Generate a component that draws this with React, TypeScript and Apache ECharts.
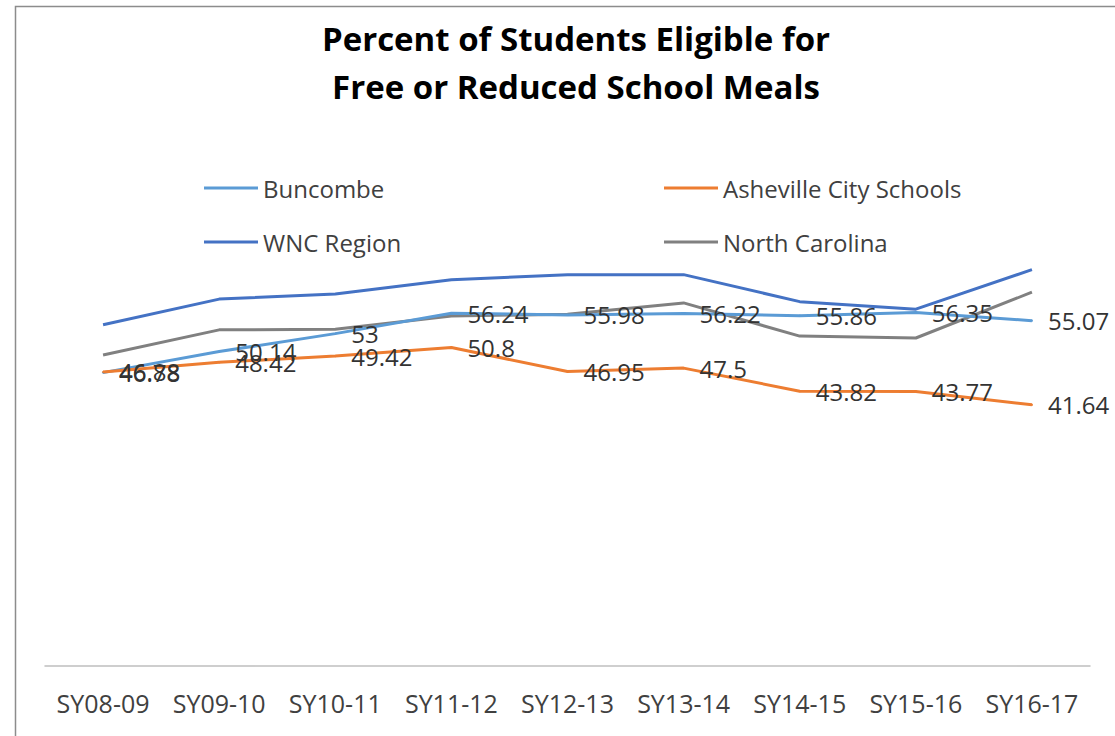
import React, { useEffect, useRef } from "react";
import * as echarts from "echarts";

const categories = ["SY08-09", "SY09-10", "SY10-11", "SY11-12", "SY12-13", "SY13-14", "SY14-15", "SY15-16", "SY16-17"];
const buncombe = [46.78, 50.14, 53, 56.24, 55.98, 56.22, 55.86, 56.35, 55.07];
const asheville = [46.88, 48.42, 49.42, 50.8, 46.95, 47.5, 43.82, 43.77, 41.64];
const wncRegion = [54.4, 58.5, 59.3, 61.6, 62.4, 62.4, 58.1, 56.9, 63.2];
const northCarolina = [49.6, 53.6, 53.7, 55.8, 56.1, 57.9, 52.6, 52.3, 59.6];
const titleText = "Percent of Students Eligible for\nFree or Reduced School Meals";

const FONT = "'Open Sans', 'Noto Sans', sans-serif";

export default function App() {
  const ref = useRef<HTMLDivElement>(null);
  useEffect(() => {
    if (!ref.current) return;
    const chart = echarts.init(ref.current, null, { renderer: "svg" });
    const labelStyle = {
      show: true,
      position: "right" as const,
      distance: 15,
      fontSize: 24,
      color: "#333333",
      fontFamily: FONT,
    };
    const mkLegend = (name: string, left: number, top: number) => ({
      data: [name],
      left,
      top,
      orient: "horizontal",
      icon: "rect",
      itemWidth: 54,
      itemHeight: 3,
      padding: 0,
      textStyle: { fontSize: 24, color: "#404040", fontFamily: FONT, lineHeight: 30 },
    });
    chart.setOption({
      animation: false,
      backgroundColor: "#ffffff",
      title: {
        text: titleText,
        left: 571,
        textAlign: "center",
        top: 9,
        textStyle: { fontSize: 33, fontWeight: "bold", color: "#000000", fontFamily: FONT, lineHeight: 48 },
      },
      legend: [
        mkLegend("Buncombe", 204, 173),
        mkLegend("Asheville City Schools", 664, 173),
        mkLegend("WNC Region", 204, 227),
        mkLegend("North Carolina", 664, 227),
      ],
      graphic: [
        {
          type: "rect",
          shape: { x: 15.5, y: 6.5, width: 1300, height: 900 },
          style: { fill: "none", stroke: "#8c8c8c", lineWidth: 1.5 },
          silent: true,
        },
      ],
      grid: { left: 45, right: 25, top: 227, bottom: 70, containLabel: false },
      xAxis: {
        type: "category",
        data: categories,
        boundaryGap: true,
        axisLine: { show: true, lineStyle: { color: "#bfbfbf", width: 1.5 } },
        axisTick: { show: false },
        axisLabel: { fontSize: 25, color: "#404040", fontFamily: FONT, margin: 24, interval: 0 },
        splitLine: { show: false },
      },
      yAxis: {
        type: "value",
        min: 0,
        max: 70,
        show: false,
        splitLine: { show: false },
      },
      series: [
        {
          name: "Buncombe",
          type: "line",
          data: buncombe,
          symbol: "circle",
          symbolSize: 2,
          itemStyle: { color: "#5B9BD5" },
          lineStyle: { color: "#5B9BD5", width: 3 },
          label: labelStyle,
          z: 3,
        },
        {
          name: "Asheville City Schools",
          type: "line",
          data: asheville,
          symbol: "circle",
          symbolSize: 2,
          itemStyle: { color: "#ED7D31" },
          lineStyle: { color: "#ED7D31", width: 3 },
          label: labelStyle,
          z: 3,
        },
        {
          name: "WNC Region",
          type: "line",
          data: wncRegion,
          symbol: "none",
          itemStyle: { color: "#4472C4" },
          lineStyle: { color: "#4472C4", width: 3 },
          z: 2,
        },
        {
          name: "North Carolina",
          type: "line",
          data: northCarolina,
          symbol: "none",
          itemStyle: { color: "#808080" },
          lineStyle: { color: "#808080", width: 3 },
          z: 2,
        },
      ],
    });
    return () => chart.dispose();
  }, []);
  return (
    <div
      ref={ref}
      style={{ position: "fixed", left: 0, top: 0, width: 1115, height: 736, background: "#fff" }}
    />
  );
}
